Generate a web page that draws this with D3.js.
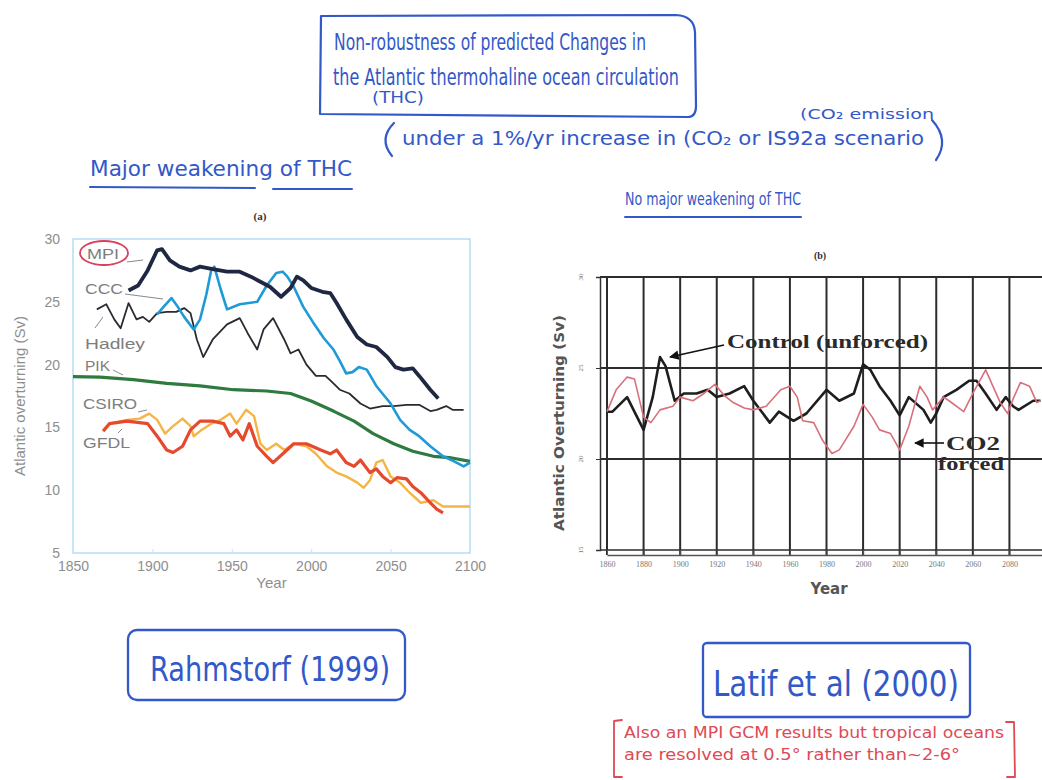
<!DOCTYPE html>
<html>
<head>
<meta charset="utf-8">
<script src="https://cdn.jsdelivr.net/npm/d3@7"></script>
<style>
  body { margin: 0; background: #fff; }
  svg { display: block; }
</style>
</head>
<body>
<script>
const w = 1042;
const h = 780;

// ---- panel (a), Rahmstorf (1999): Atlantic overturning in Sv
const mpi = [[1885,25.9],[1891,26.3],[1897,27.5],[1903,29.1],[1906,29.2],[1911,28.3],[1917,27.8],[1924,27.5],[1930,27.8],[1938,27.6],[1947,27.4],[1955,27.4],[1962,27.0],[1968,26.6],[1974,26.2],[1981,25.4],[1987,26.1],[1991,27.0],[1995,26.7],[2000,26.1],[2007,25.8],[2012,25.7],[2016,24.9],[2022,23.6],[2029,22.2],[2035,21.6],[2041,21.4],[2048,20.6],[2053,19.8],[2058,19.6],[2064,19.7],[2068,19.1],[2075,18.0],[2080,17.3]];
const ccc = [[1903,24.0],[1907,24.6],[1912,25.3],[1916,24.6],[1920,23.8],[1926,22.8],[1930,23.6],[1934,25.6],[1937,27.5],[1939,27.8],[1943,26.0],[1947,24.4],[1955,24.8],[1966,25.0],[1972,26.3],[1978,27.3],[1982,27.4],[1985,27.0],[1989,26.2],[1995,24.6],[2001,23.4],[2008,22.1],[2014,21.2],[2018,20.3],[2022,19.3],[2026,19.4],[2030,19.8],[2035,19.6],[2041,18.3],[2050,16.9],[2056,15.6],[2062,14.8],[2068,14.3],[2075,13.5],[2083,12.7],[2090,12.3],[2096,11.9],[2100,12.2]];
const hadley = [[1865,24.4],[1871,24.8],[1876,23.6],[1880,22.9],[1885,24.9],[1890,23.6],[1894,23.8],[1898,23.4],[1903,24.1],[1909,24.2],[1915,24.2],[1920,24.5],[1924,24.1],[1928,22.0],[1932,20.6],[1938,22.0],[1947,23.2],[1955,23.7],[1960,22.5],[1966,21.2],[1970,22.8],[1976,23.7],[1983,22.0],[1987,20.9],[1992,21.2],[1997,20.0],[2003,19.1],[2009,19.1],[2014,18.5],[2018,18.0],[2024,17.7],[2031,16.9],[2037,16.5],[2045,16.7],[2052,16.7],[2060,16.8],[2068,16.8],[2075,16.3],[2079,16.4],[2085,16.7],[2089,16.4],[2096,16.4]];
const pik = [[1850,19.05],[1867,19.0],[1888,18.8],[1909,18.5],[1930,18.3],[1951,18.0],[1972,17.9],[1987,17.7],[2000,17.1],[2014,16.3],[2027,15.5],[2039,14.5],[2052,13.7],[2064,13.1],[2077,12.7],[2087,12.6],[2100,12.3]];
const csiro = [[1869,14.8],[1873,15.3],[1884,15.6],[1892,15.7],[1898,16.1],[1903,15.6],[1908,14.5],[1913,15.1],[1919,15.7],[1924,15.1],[1926,14.3],[1931,14.8],[1937,15.3],[1943,15.6],[1949,16.1],[1953,15.3],[1959,16.4],[1964,15.9],[1968,13.7],[1972,13.2],[1978,13.7],[1983,13.2],[1989,13.7],[1997,13.5],[2003,12.9],[2010,11.9],[2016,11.4],[2022,11.1],[2029,10.6],[2033,10.2],[2037,10.8],[2041,12.2],[2045,12.4],[2050,11.1],[2056,10.6],[2062,9.8],[2069,9.0],[2077,9.2],[2083,8.7],[2089,8.7],[2100,8.7]];
const gfdl = [[1869,14.7],[1873,15.3],[1884,15.5],[1897,15.3],[1903,14.3],[1909,13.2],[1913,13.0],[1919,13.5],[1924,14.8],[1930,15.5],[1938,15.5],[1945,15.3],[1949,14.3],[1953,14.8],[1957,14.0],[1961,15.3],[1966,13.5],[1972,12.7],[1976,12.2],[1983,13.0],[1989,13.7],[1997,13.7],[2006,13.2],[2012,12.9],[2016,13.2],[2022,12.2],[2027,11.9],[2031,12.4],[2037,11.4],[2041,11.7],[2045,11.1],[2050,10.6],[2054,11.0],[2060,10.9],[2064,10.3],[2069,9.8],[2075,9.0],[2079,8.5],[2083,8.2]];

const aYTicks = [5, 10, 15, 20, 25, 30];
const aXTicks = [1850, 1900, 1950, 2000, 2050, 2100];

// ---- panel (b), Latif et al (2000)
const control = [[1860,22.6],[1863,22.6],[1871,23.4],[1878,22.0],[1880,21.6],[1885,23.4],[1889,25.6],[1892,25.1],[1897,23.2],[1902,23.6],[1909,23.6],[1915,23.8],[1920,23.4],[1927,23.6],[1935,24.0],[1940,23.2],[1949,22.0],[1954,22.6],[1962,22.1],[1969,22.5],[1980,23.8],[1987,23.2],[1995,23.6],[2000,25.2],[2004,24.9],[2009,24.0],[2015,23.2],[2020,22.4],[2025,23.4],[2033,22.7],[2037,22.0],[2040,22.5],[2044,23.4],[2051,23.8],[2058,24.3],[2062,24.3],[2067,23.6],[2073,22.7],[2078,23.4],[2082,22.9],[2085,22.7],[2093,23.2],[2097,23.2]];
const co2Forced = [[1860,22.6],[1865,23.8],[1871,24.5],[1875,24.4],[1880,22.3],[1884,22.0],[1889,22.7],[1896,22.9],[1900,23.4],[1907,23.2],[1913,23.6],[1919,24.1],[1924,23.5],[1929,23.1],[1935,22.8],[1940,22.7],[1947,22.9],[1955,23.8],[1960,24.0],[1964,23.4],[1967,22.1],[1973,22.0],[1978,21.0],[1983,20.3],[1987,20.5],[1995,21.8],[2000,23.0],[2005,22.3],[2009,21.6],[2015,21.4],[2020,20.5],[2025,21.8],[2031,24.0],[2035,23.4],[2038,22.7],[2044,23.4],[2047,23.2],[2055,22.6],[2060,23.6],[2067,24.9],[2075,23.1],[2079,22.5],[2082,23.3],[2086,24.2],[2091,24.0],[2095,23.1],[2097,23.2]];

const bYTicks = [15, 20, 25, 30];
const bXTicks = [1860, 1880, 1900, 1920, 1940, 1960, 1980, 2000, 2020, 2040, 2060, 2080];

const ink = "#3358c8";
const redInk = "#dd4b55";
const handFont = '"Liberation Sans Narrow", "DejaVu Sans Condensed", "Open Sans", sans-serif';

const svg = d3.select("body").append("svg").attr("width", w).attr("height", h);
svg.append("rect").attr("width", w).attr("height", h).attr("fill", "#fff");

// handwriting-ish text helper
function hand(x, y, str, size, len, color, anchor) {
  const t = svg.append("text")
    .attr("x", x).attr("y", y)
    .attr("font-family", handFont)
    .attr("font-size", size)
    .attr("fill", color || ink)
    .attr("text-anchor", anchor || "start")
    .text(str);
  if (len) t.attr("textLength", len).attr("lengthAdjust", "spacingAndGlyphs");
  return t;
}
function stroke(d, color, width) {
  svg.append("path").attr("d", d).attr("fill", "none")
    .attr("stroke", color || ink).attr("stroke-width", width || 2)
    .attr("stroke-linecap", "round").attr("stroke-linejoin", "round");
}

// ================= panel (a) =================
const xA = d3.scaleLinear().domain([1850, 2100]).range([73, 470]);
const yA = d3.scaleLinear().domain([5, 30]).range([553, 239]);

const gA = svg.append("g");
gA.append("rect")
  .attr("x", xA(1850)).attr("y", yA(30))
  .attr("width", xA(2100) - xA(1850)).attr("height", yA(5) - yA(30))
  .attr("fill", "none").attr("stroke", "#a9d8ee").attr("stroke-width", 1.3);

const axA = gA.append("g").attr("transform", `translate(${xA(1850)},0)`)
  .call(d3.axisLeft(yA).tickValues(aYTicks).tickSize(0).tickPadding(13));
const axB = gA.append("g").attr("transform", `translate(0,${yA(5)})`)
  .call(d3.axisBottom(xA).tickValues(aXTicks).tickFormat(d3.format("d")).tickSize(-4).tickPadding(8));
[axA, axB].forEach(g => {
  g.select(".domain").remove();
  g.selectAll(".tick line").attr("stroke", "#c8e4f0");
  g.selectAll("text").attr("fill", "#8e8e8e").attr("font-size", 14)
    .attr("font-family", "Liberation Sans, Arial, sans-serif");
});

gA.append("text").attr("x", (xA(1850) + xA(2100)) / 2).attr("y", 588)
  .attr("text-anchor", "middle").attr("fill", "#8e8e8e").attr("font-size", 15)
  .attr("font-family", "Liberation Sans, Arial, sans-serif").text("Year");
gA.append("text").attr("transform", "translate(25,396) rotate(-90)")
  .attr("text-anchor", "middle").attr("fill", "#8e8e8e").attr("font-size", 15)
  .attr("font-family", "Liberation Sans, Arial, sans-serif").text("Atlantic overturning (Sv)");

const lineA = d3.line().x(d => xA(d[0])).y(d => yA(d[1]));
const seriesA = [
  { data: pik, color: "#2f7a3f", width: 3.2 },
  { data: csiro, color: "#f5b545", width: 2.4 },
  { data: gfdl, color: "#e64a2e", width: 3.2 },
  { data: hadley, color: "#2a2a33", width: 1.8 },
  { data: ccc, color: "#1e9ad6", width: 2.6 },
  { data: mpi, color: "#1f2743", width: 3.8 },
];
gA.selectAll("path.series").data(seriesA).join("path")
  .attr("class", "series")
  .attr("d", d => lineA(d.data))
  .attr("fill", "none")
  .attr("stroke", d => d.color)
  .attr("stroke-width", d => d.width)
  .attr("stroke-linejoin", "round");

// model labels with their little leader lines
const aLabels = [
  { name: "MPI", x: 87, y: 259, len: 32, lead: [[127, 262], [143, 260]] },
  { name: "CCC", x: 85, y: 294, len: 38, lead: [[125, 294], [163, 299]] },
  { name: "Hadley", x: 85, y: 349, len: 60, lead: [[95, 328], [103, 317]] },
  { name: "PIK", x: 85, y: 371, len: 25, lead: [[113, 370], [123, 375]] },
  { name: "CSIRO", x: 83, y: 409, len: 54, lead: [[138, 412], [147, 410]] },
  { name: "GFDL", x: 83, y: 448, len: 47, lead: [[118, 433], [122, 429]] },
];
aLabels.forEach(l => {
  gA.append("text").attr("x", l.x).attr("y", l.y)
    .attr("fill", "#7d7d7d").attr("font-size", 15)
    .attr("font-family", "Liberation Sans, Arial, sans-serif")
    .attr("textLength", l.len).attr("lengthAdjust", "spacingAndGlyphs")
    .text(l.name);
  gA.append("path").attr("d", d3.line()(l.lead))
    .attr("stroke", "#8a8a8a").attr("stroke-width", 1).attr("fill", "none");
});
// red hand-drawn circle round MPI
gA.append("ellipse").attr("cx", 104).attr("cy", 253).attr("rx", 24).attr("ry", 12)
  .attr("fill", "none").attr("stroke", "#d8405e").attr("stroke-width", 1.8);

svg.append("text").attr("x", 260).attr("y", 220).attr("text-anchor", "middle")
  .attr("font-family", "Liberation Serif, serif").attr("font-weight", "bold")
  .attr("font-size", 11).attr("fill", "#333").text("(a)");

// ================= panel (b) =================
const xB = d3.scaleLinear().domain([1860, 2100]).range([607, 1046]);
const yB = d3.scaleLinear().domain([15, 30]).range([550, 277]);
const gB = svg.append("g");

// vertical grid at every tick year
gB.selectAll("line.vgrid").data(bXTicks).join("line")
  .attr("class", "vgrid")
  .attr("x1", d => xB(d)).attr("x2", d => xB(d))
  .attr("y1", yB(30)).attr("y2", 555)
  .attr("stroke", "#2c2c2c").attr("stroke-width", 2);
// horizontal grid
gB.selectAll("line.hgrid").data(bYTicks).join("line")
  .attr("class", "hgrid")
  .attr("x1", 600).attr("x2", w)
  .attr("y1", d => yB(d)).attr("y2", d => yB(d))
  .attr("stroke", "#2c2c2c").attr("stroke-width", d => d === 15 ? 1.5 : 2);
// left axis line with outward ticks
gB.append("g").attr("transform", "translate(600,0)")
  .call(d3.axisLeft(yB).tickValues(bYTicks).tickSize(4).tickFormat(""))
  .call(g => g.select(".domain").attr("stroke", "#333").attr("stroke-width", 1.5))
  .call(g => g.selectAll(".tick line").attr("stroke", "#333"));
gB.selectAll("text.ytick").data(bYTicks).join("text")
  .attr("class", "ytick")
  .attr("transform", d => `translate(583,${yB(d)}) rotate(-90)`)
  .attr("text-anchor", "middle").attr("font-size", 7)
  .attr("font-family", "Liberation Serif, serif").attr("fill", "#777")
  .text(d => d);
// bottom axis (a second line just under the frame)
const axBB = gB.append("g").attr("transform", "translate(0,555)")
  .call(d3.axisBottom(xB).tickValues(bXTicks).tickFormat(d3.format("d"))
    .tickSize(-5).tickPadding(6).tickSizeOuter(0));
axBB.select(".domain").attr("stroke", "#555").attr("stroke-width", 1.5);
axBB.selectAll(".tick line").attr("stroke", "#555");
axBB.selectAll("text").attr("font-size", 8).attr("fill", "#777")
  .attr("font-family", "Liberation Serif, serif");

gB.append("text").attr("transform", "translate(564,423) rotate(-90)")
  .attr("text-anchor", "middle").attr("font-size", 14).attr("font-weight", "bold")
  .attr("fill", "#555").attr("font-family", "DejaVu Sans, sans-serif")
  .attr("textLength", 216).attr("lengthAdjust", "spacingAndGlyphs")
  .text("Atlantic Overturning (Sv)");
gB.append("text").attr("x", 829).attr("y", 594).attr("text-anchor", "middle")
  .attr("font-size", 15).attr("font-weight", "bold").attr("fill", "#555")
  .attr("font-family", "DejaVu Sans, sans-serif").text("Year");
svg.append("text").attr("x", 820).attr("y", 259).attr("text-anchor", "middle")
  .attr("font-family", "Liberation Serif, serif").attr("font-weight", "bold")
  .attr("font-size", 10).attr("fill", "#333").text("(b)");

const lineB = d3.line().x(d => xB(d[0])).y(d => yB(d[1]));
gB.append("path").attr("d", lineB(control)).attr("fill", "none")
  .attr("stroke", "#1e1e1e").attr("stroke-width", 2.6).attr("stroke-linejoin", "round");
gB.append("path").attr("d", lineB(co2Forced)).attr("fill", "none")
  .attr("stroke", "#d8707c").attr("stroke-width", 1.6).attr("stroke-linejoin", "round");

// annotations with arrows
svg.append("defs").append("marker").attr("id", "arr")
  .attr("viewBox", "0 0 10 10").attr("refX", 9).attr("refY", 5)
  .attr("markerWidth", 7).attr("markerHeight", 6).attr("orient", "auto")
  .append("path").attr("d", "M0,0L10,5L0,10z").attr("fill", "#111");
gB.append("line").attr("x1", 724).attr("y1", 345).attr("x2", 670).attr("y2", 357)
  .attr("stroke", "#111").attr("stroke-width", 1.6).attr("marker-end", "url(#arr)");
gB.append("line").attr("x1", 944).attr("y1", 443).attr("x2", 915).attr("y2", 443)
  .attr("stroke", "#111").attr("stroke-width", 1.6).attr("marker-end", "url(#arr)");
const serifBold = g => g.attr("font-family", "Liberation Serif, serif").attr("font-weight", "bold")
  .attr("fill", "#2a2a2a");
gB.append("text").attr("x", 727).attr("y", 348).attr("font-size", 18)
  .attr("textLength", 201).attr("lengthAdjust", "spacingAndGlyphs")
  .call(serifBold).text("Control (unforced)");
gB.append("text").attr("x", 946).attr("y", 450).attr("font-size", 18)
  .attr("textLength", 54).attr("lengthAdjust", "spacingAndGlyphs")
  .call(serifBold).text("CO2");
gB.append("text").attr("x", 938).attr("y", 470).attr("font-size", 18)
  .attr("textLength", 66).attr("lengthAdjust", "spacingAndGlyphs")
  .call(serifBold).text("forced");

// ================= hand-written notes =================
// title box
stroke("M321,16 L320,114 L688,117 Q696,117 696,106 L695,32 Q694,16 676,15 Z", ink, 2.2);
hand(334, 50, "Non-robustness of predicted Changes in", 23, 312);
hand(333, 85, "the Atlantic  thermohaline ocean circulation", 23, 346);
hand(372, 103, "(THC)", 15, 52);
hand(800, 119, "(CO\u2082 emission", 14, 134);
stroke("M394,123 Q378,139 392,156", ink, 2.2);
hand(402, 145, "under a 1%/yr increase in (CO\u2082 or IS92a scenario", 19, 522);
stroke("M932,120 Q950,140 936,160", ink, 2.2);

hand(90, 176, "Major weakening of THC", 21, 262);
stroke("M90,187 L255,188", ink, 2);
stroke("M273,189 L352,189", ink, 2);

hand(625, 205, "No major weakening of THC", 18, 176);
stroke("M625,217 L801,217", ink, 2);

// reference boxes
svg.append("rect").attr("x", 128).attr("y", 630).attr("width", 277).attr("height", 70)
  .attr("rx", 9).attr("fill", "none").attr("stroke", ink).attr("stroke-width", 2.3);
hand(150, 681, "Rahmstorf (1999)", 33, 240);

svg.append("rect").attr("x", 703).attr("y", 643).attr("width", 267).attr("height", 74)
  .attr("rx", 4).attr("fill", "none").attr("stroke", ink).attr("stroke-width", 2.3);
hand(713, 696, "Latif et al (2000)", 35, 246);

// red note in brackets
stroke("M622,720 L614,721 L614,777 L622,777", redInk, 1.8);
stroke("M1006,722 L1014,722 L1015,777 L1007,777", redInk, 1.8);
hand(624, 738, "Also an MPI GCM results but tropical oceans", 15, 380, redInk);
hand(624, 760, "are resolved at 0.5\u00b0 rather than~2-6\u00b0", 15, 336, redInk);
</script>
</body>
</html>
